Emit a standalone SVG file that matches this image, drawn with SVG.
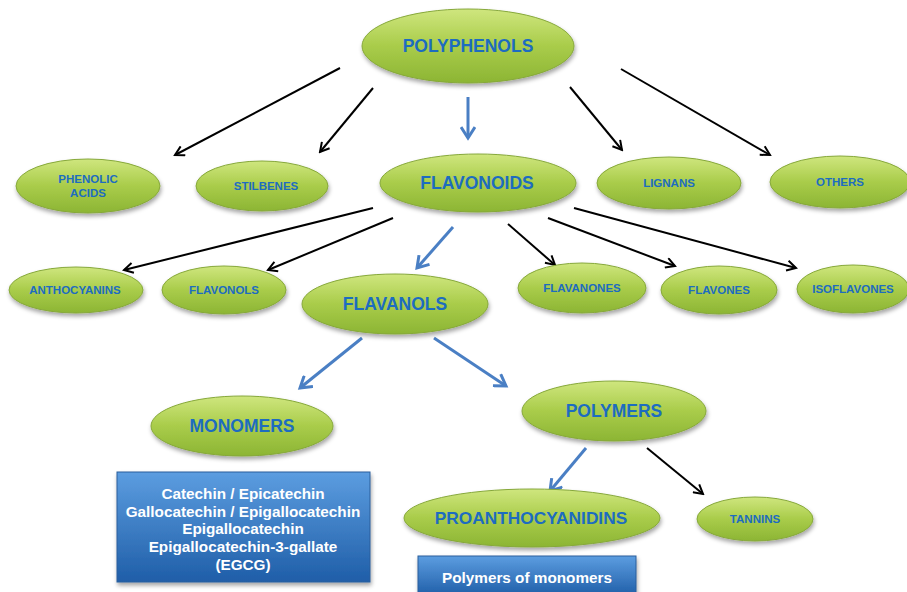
<svg xmlns="http://www.w3.org/2000/svg" width="907" height="592" viewBox="0 0 907 592">
<defs>
<linearGradient id="g" x1="0" y1="0" x2="0" y2="1">
<stop offset="0" stop-color="#cfe67e"/>
<stop offset="0.5" stop-color="#a9cc4a"/>
<stop offset="1" stop-color="#8cb534"/>
</linearGradient>
<linearGradient id="b" x1="0" y1="0" x2="0" y2="1">
<stop offset="0" stop-color="#5c9de0"/>
<stop offset="1" stop-color="#1f5ea8"/>
</linearGradient>
<filter id="sh" x="-20%" y="-20%" width="140%" height="150%">
<feDropShadow dx="1" dy="3" stdDeviation="2" flood-color="#000" flood-opacity="0.35"/>
</filter>
<marker id="ak" viewBox="0 0 12 12" refX="10" refY="6" markerWidth="12" markerHeight="12" markerUnits="userSpaceOnUse" orient="auto">
<path d="M1,1 L10,6 L1,11" fill="none" stroke="#000" stroke-width="2"/>
</marker>
<marker id="ab" viewBox="0 0 16 16" refX="13" refY="8" markerWidth="16" markerHeight="16" markerUnits="userSpaceOnUse" orient="auto">
<path d="M2,1 L13,8 L2,15" fill="none" stroke="#4a7fc4" stroke-width="3"/>
</marker>
</defs>
<style>
.n ellipse{fill:url(#g);stroke:#86a83a;stroke-width:1;filter:url(#sh)}
.n text{font-family:"Liberation Sans",Arial,sans-serif;font-weight:bold;fill:#1d6cc0;text-anchor:middle;dominant-baseline:central}
.s text{font-size:11.5px}
.m text{font-size:17.5px}
.bx rect{fill:url(#b);stroke:#2a5f9c;stroke-width:1;filter:url(#sh)}
.bx text{font-family:"Liberation Sans",Arial,sans-serif;font-weight:bold;fill:#fff;font-size:15.3px;text-anchor:middle}
.k{stroke:#000;stroke-width:2;fill:none;marker-end:url(#ak)}
.bl{stroke:#4a7fc4;stroke-width:3;fill:none;marker-end:url(#ab)}
</style>
<g id="connectors">
<line class="k" x1="340" y1="68" x2="175" y2="155"/>
<line class="k" x1="373" y1="88" x2="320" y2="152"/>
<line class="bl" x1="468" y1="97" x2="468" y2="138"/>
<line class="k" x1="570" y1="87" x2="622" y2="150"/>
<line class="k" x1="621" y1="69" x2="770" y2="155"/>
<line class="k" x1="373" y1="208" x2="124" y2="270"/>
<line class="k" x1="393" y1="218" x2="268" y2="270"/>
<line class="bl" x1="453" y1="227" x2="417" y2="268"/>
<line class="k" x1="508" y1="224" x2="555" y2="265"/>
<line class="k" x1="548" y1="218" x2="675" y2="266"/>
<line class="k" x1="574" y1="208" x2="796" y2="268"/>
<line class="bl" x1="362" y1="338" x2="300" y2="388"/>
<line class="bl" x1="434" y1="338" x2="506" y2="386"/>
<line class="bl" x1="586" y1="448" x2="550" y2="491"/>
<line class="k" x1="647" y1="448" x2="703" y2="494"/>
</g>
<g id="polyphenols" class="n m"><ellipse cx="468" cy="46" rx="106" ry="37"/><text x="468" y="46">POLYPHENOLS</text></g>
<g id="phenolic-acids" class="n s"><ellipse cx="88" cy="186" rx="72" ry="27"/><text x="88" y="179">PHENOLIC</text><text x="88" y="193">ACIDS</text></g>
<g id="stilbenes" class="n s"><ellipse cx="262" cy="186" rx="66" ry="25"/><text x="266" y="186">STILBENES</text></g>
<g id="flavonoids" class="n m"><ellipse cx="478" cy="183" rx="98" ry="29"/><text x="477" y="183">FLAVONOIDS</text></g>
<g id="lignans" class="n s"><ellipse cx="669" cy="183" rx="72" ry="26"/><text x="669" y="183">LIGNANS</text></g>
<g id="others" class="n s"><ellipse cx="840" cy="182" rx="70" ry="26"/><text x="840" y="182">OTHERS</text></g>
<g id="anthocyanins" class="n s"><ellipse cx="76" cy="290" rx="67" ry="23"/><text x="75" y="290">ANTHOCYANINS</text></g>
<g id="flavonols" class="n s"><ellipse cx="224" cy="290" rx="62" ry="24"/><text x="224" y="290">FLAVONOLS</text></g>
<g id="flavanols" class="n m"><ellipse cx="395" cy="304" rx="93" ry="30"/><text x="395" y="304">FLAVANOLS</text></g>
<g id="flavanones" class="n s"><ellipse cx="582" cy="288" rx="64" ry="25"/><text x="582" y="288">FLAVANONES</text></g>
<g id="flavones" class="n s"><ellipse cx="719" cy="290" rx="58" ry="24"/><text x="719" y="290">FLAVONES</text></g>
<g id="isoflavones" class="n s"><ellipse cx="853" cy="289" rx="56" ry="24"/><text x="853" y="289">ISOFLAVONES</text></g>
<g id="monomers" class="n m"><ellipse cx="242" cy="426" rx="91" ry="30"/><text x="242" y="426">MONOMERS</text></g>
<g id="polymers" class="n m"><ellipse cx="614" cy="411" rx="92" ry="30"/><text x="614" y="411">POLYMERS</text></g>
<g id="proanthocyanidins" class="n"><ellipse cx="532" cy="518" rx="128" ry="29"/><text x="531" y="518" font-size="17.3">PROANTHOCYANIDINS</text></g>
<g id="tannins" class="n s"><ellipse cx="755" cy="519" rx="58" ry="22"/><text x="755" y="519">TANNINS</text></g>
<g id="monomers-box" class="bx"><rect x="117" y="472" width="253" height="110"/>
<text x="243" y="499">Catechin / Epicatechin</text>
<text x="243" y="517">Gallocatechin / Epigallocatechin</text>
<text x="243" y="534">Epigallocatechin</text>
<text x="243" y="552">Epigallocatechin-3-gallate</text>
<text x="243" y="570">(EGCG)</text></g>
<g id="polymers-box" class="bx"><rect x="418" y="556" width="218" height="40"/>
<text x="527" y="583">Polymers of monomers</text></g>
</svg>
